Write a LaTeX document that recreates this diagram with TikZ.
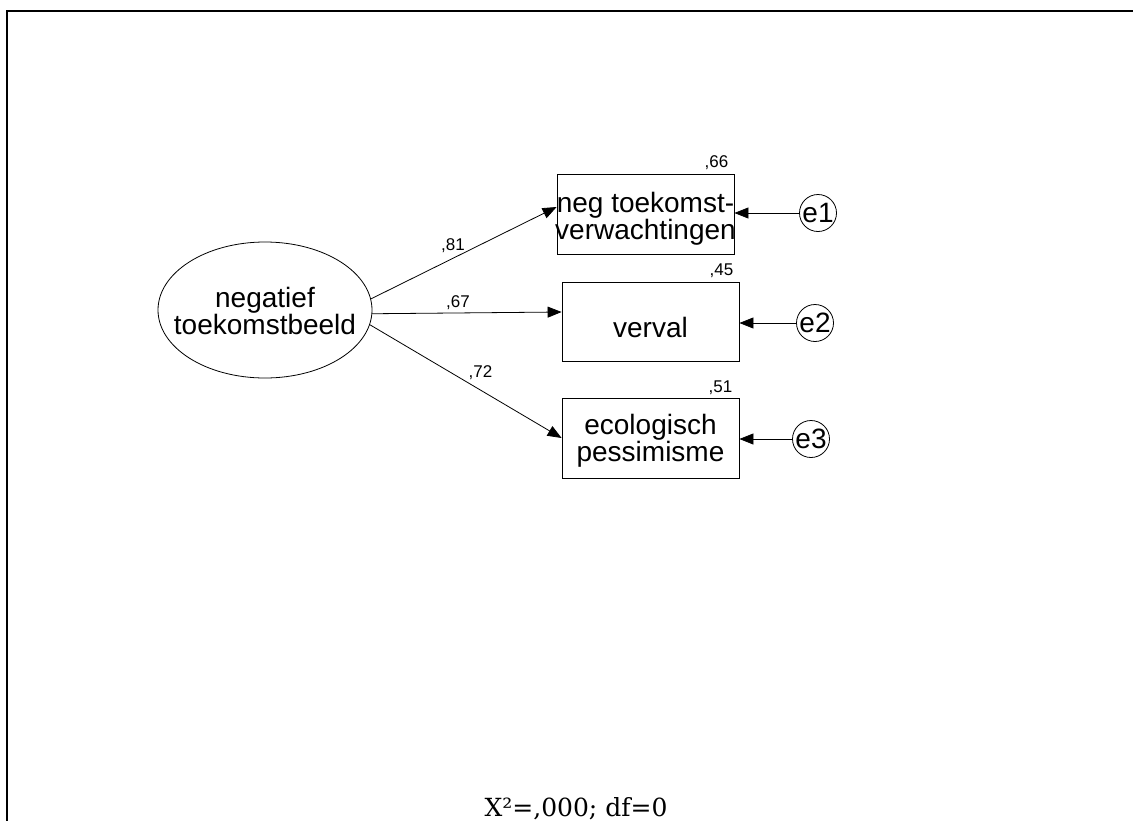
\documentclass[tikz,border=0pt]{standalone}
\usepackage{fontspec}
\setmainfont{Liberation Sans}
\newfontfamily\fitfont{DejaVu Serif}
\usetikzlibrary{arrows.meta,shapes.geometric,calc}
\begin{document}
\begin{tikzpicture}[x=1pt,y=-1pt,
  every node/.style={inner sep=0pt},
  vartext/.style={align=center, font=\fontsize{28}{24}\selectfont},
  latent/.style={draw, ellipse, minimum width=214pt, minimum height=136pt,
    line width=0.8pt},
  observed/.style={draw, rectangle, minimum width=177pt, minimum height=80pt,
    line width=0.8pt},
  errvar/.style={draw, circle, minimum size=37pt, line width=0.8pt,
    font=\fontsize{28}{28}\selectfont},
  regpath/.style={-{Triangle[length=14pt,width=11pt]}, line width=0.8pt},
  coef/.style={font=\fontsize{17}{17}\selectfont, anchor=base},
  rsq/.style={font=\fontsize{17}{17}\selectfont, anchor=base east},
]
\useasboundingbox (0,0) rectangle (1133,820);
% page frame
\draw[line width=2pt] (7,11) rectangle (1160,850);

% latent factor
\node[latent, label={[vartext, yshift=-1pt]center:{negatief\\toekomstbeeld}}] (f) at (265,310) {};

% indicators
\node[observed, label={[vartext, yshift=-5pt]center:{neg toekomst-\\verwachtingen}}] (b1) at (645.5,214) {};
\node[observed, minimum height=79pt, label={[vartext, yshift=-6pt]center:{verval}}] (b2) at (650.5,321.5) {};
\node[observed, label={[vartext, yshift=-3pt]center:{ecologisch\\pessimisme}}] (b3) at (650.5,438) {};

% squared multiple correlations
\node[rsq] (r1) at ($(b1.north east)+(-6,-6)$) {,66};
\node[rsq] (r2) at ($(b2.north east)+(-6,-6)$) {,45};
\node[rsq] (r3) at ($(b3.north east)+(-7,-5)$) {,51};

% error terms
\node[errvar] (e1) at (818,213) {e1};
\node[errvar] (e2) at (815,323) {e2};
\node[errvar] (e3) at (811,439) {e3};

% factor loadings
\draw[regpath] (f.6) -- ($(b1.west)+(0,-7)$);
\draw[regpath] (f.-2) -- ($(b2.west)+(0,-9.5)$);
\draw[regpath] (f.-8) -- (b3.west);
\node[coef] (l1) at (453,250) {,81};
\node[coef] (l2) at (458,307) {,67};
\node[coef] (l3) at (480.5,377) {,72};

% error paths
\draw[regpath] (e1.west) -- (e1.west -| b1.east);
\draw[regpath] (e2.west) -- (e2.west -| b2.east);
\draw[regpath] (e3.west) -- (e3.west -| b3.east);

% fit statistics
\node[font=\fitfont\fontsize{25}{25}\selectfont, anchor=base] (fit) at (576,816) {X²=,000; df=0};
\end{tikzpicture}
\end{document}
